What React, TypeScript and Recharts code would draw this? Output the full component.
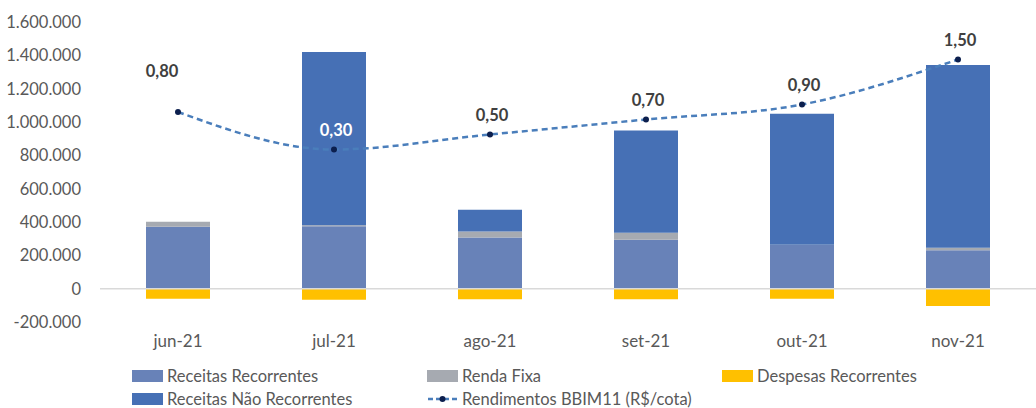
import React from 'react';
import {
  ComposedChart,
  Bar,
  Line,
  XAxis,
  YAxis,
  ReferenceLine,
  LabelList,
} from 'recharts';

const months = ['jun-21', 'jul-21', 'ago-21', 'set-21', 'out-21', 'nov-21'];
const receitasRecorrentes = [371000, 374000, 307000, 294000, 262000, 230000];
const rendaFixa = [30000, 6000, 36000, 42000, 2000, 16000];
const receitasNaoRecorrentes = [0, 1040000, 130000, 613000, 785000, 1096000];
const despesasRecorrentes = [-60000, -66000, -64000, -64000, -60000, -104000];
const rendimentos = [0.8, 0.3, 0.5, 0.7, 0.9, 1.5];

const leftTicks = [-200000, 0, 200000, 400000, 600000, 800000, 1000000, 1200000, 1400000, 1600000];

const data = months.map((m, i) => ({
  month: m,
  rr: receitasRecorrentes[i],
  rf: rendaFixa[i],
  rnr: receitasNaoRecorrentes[i],
  desp: despesasRecorrentes[i],
  rend: rendimentos[i],
}));

const FONT = 'Lato, "Open Sans", sans-serif';

const C_RR = '#6882b8';
const C_RF = '#a6aab1';
const C_RNR = '#4670b5';
const C_DESP = '#ffc000';
const C_LINE = '#4a7ebb';
const C_DOT = '#0c1f4e';

const fmtThousands = (v: number) => {
  const s = Math.abs(v).toString().replace(/\B(?=(\d{3})+(?!\d))/g, '.');
  return v < 0 ? '-' + s : s;
};

// first label sits higher and a bit to the left, the one inside the jul bar is white
const RendLabel = (props: any) => {
  const { x, y, value, index } = props;
  const lift = index === 0 ? 39 : 18;
  const shift = index === 0 ? -16 : 2;
  return (
    <text
      x={x + shift}
      y={y - lift}
      fill={index === 1 ? '#ffffff' : '#404040'}
      fontFamily={FONT}
      fontSize={16.5}
      fontWeight={700}
      textAnchor="middle"
      dominantBaseline="middle"
    >
      {Number(value).toFixed(2).replace('.', ',')}
    </text>
  );
};

const LegendItem = ({ kind, color, label }: { kind: 'box' | 'line'; color: string; label: string }) => (
  <div style={{ display: 'flex', alignItems: 'center', height: 14 }}>
    {kind === 'box' ? (
      <div style={{ width: 31, height: 12, background: color, marginRight: 4 }} />
    ) : (
      <svg width={31} height={12} style={{ marginRight: 4 }}>
        <line x1={1} y1={6} x2={30} y2={6} stroke={C_LINE} strokeWidth={2.5} strokeDasharray="5 3" />
        <circle cx={15.5} cy={6} r={3} fill={C_DOT} />
      </svg>
    )}
    <span>{label}</span>
  </div>
);

const App: React.FC = () => {
  return (
    <div style={{ position: 'absolute', left: 0, top: 0, width: 1036, height: 408, background: '#fff', overflow: 'hidden' }}>
      <ComposedChart
        width={1036}
        height={408}
        data={data}
        stackOffset="sign"
        margin={{ top: 22, right: 0, left: 0, bottom: 50 }}
        barCategoryGap={0}
      >
        <XAxis
          dataKey="month"
          axisLine={false}
          tickLine={false}
          tickSize={0}
          tickMargin={13}
          height={36}
          interval={0}
          tick={{ fill: '#595959', fontSize: 17, fontFamily: FONT }}
        />
        <YAxis
          yAxisId="left"
          domain={[-200000, 1600000]}
          ticks={leftTicks}
          interval={0}
          axisLine={false}
          tickLine={false}
          tickSize={0}
          tickMargin={19}
          width={100}
          tickFormatter={fmtThousands}
          tick={{ fill: '#595959', fontSize: 16.5, fontFamily: FONT }}
        />
        <YAxis yAxisId="right" orientation="right" domain={[-2, 2]} hide />
        <ReferenceLine yAxisId="left" y={0} stroke="#d9d9d9" strokeWidth={1.5} />
        <Bar yAxisId="left" dataKey="rr" stackId="s" fill={C_RR} barSize={64} isAnimationActive={false} />
        <Bar yAxisId="left" dataKey="rf" stackId="s" fill={C_RF} barSize={64} isAnimationActive={false} />
        <Bar yAxisId="left" dataKey="rnr" stackId="s" fill={C_RNR} barSize={64} isAnimationActive={false} />
        <Bar yAxisId="left" dataKey="desp" stackId="s" fill={C_DESP} barSize={64} isAnimationActive={false} />
        <Line
          yAxisId="right"
          dataKey="rend"
          type="monotone"
          stroke={C_LINE}
          strokeWidth={2.5}
          strokeDasharray="6 4"
          dot={{ r: 3, fill: C_DOT, stroke: C_DOT, strokeWidth: 0 }}
          activeDot={false}
          isAnimationActive={false}
        >
          <LabelList dataKey="rend" content={<RendLabel />} />
        </Line>
      </ComposedChart>
      <div
        style={{
          position: 'absolute',
          left: 132,
          top: 369,
          display: 'grid',
          gridTemplateColumns: '295px 295px 300px',
          rowGap: 9,
          fontFamily: FONT,
          fontSize: 16.5,
          color: '#595959',
          lineHeight: '14px',
        }}
      >
        <LegendItem kind="box" color={C_RR} label="Receitas Recorrentes" />
        <LegendItem kind="box" color={C_RF} label="Renda Fixa" />
        <LegendItem kind="box" color={C_DESP} label="Despesas Recorrentes" />
        <LegendItem kind="box" color={C_RNR} label="Receitas Não Recorrentes" />
        <LegendItem kind="line" color={C_LINE} label="Rendimentos BBIM11 (R$/cota)" />
      </div>
    </div>
  );
};

export default App;
